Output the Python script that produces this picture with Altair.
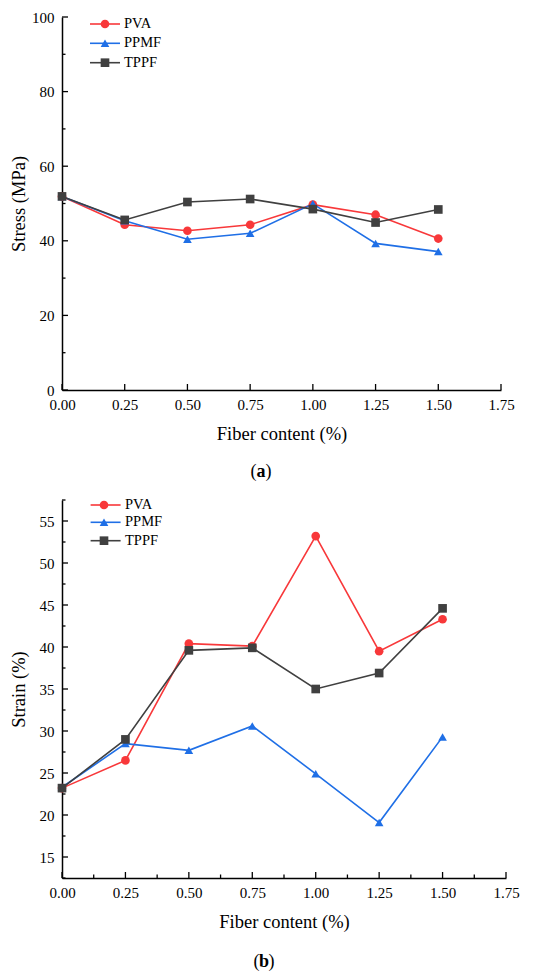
import altair as alt
import pandas as pd

FONT = "'Liberation Serif', 'Times New Roman', 'DejaVu Serif', serif"

fiber = [0.0, 0.25, 0.5, 0.75, 1.0, 1.25, 1.5]
series_names = ["PVA", "PPMF", "TPPF"]
colors = ["#f8383a", "#1f6fe6", "#404040"]
shapes = ["circle", "triangle-up", "square"]

stress_pva = [51.9, 44.3, 42.7, 44.3, 49.7, 47.0, 40.6]
stress_ppmf = [51.9, 45.4, 40.4, 42.0, 49.9, 39.3, 37.1]
stress_tppf = [51.9, 45.6, 50.4, 51.2, 48.5, 44.9, 48.4]

strain_pva = [23.2, 26.5, 40.4, 40.1, 53.2, 39.5, 43.3]
strain_ppmf = [23.3, 28.5, 27.7, 30.6, 24.9, 19.1, 29.3]
strain_tppf = [23.2, 29.0, 39.6, 39.9, 35.0, 36.9, 44.6]

x_major = [0.0, 0.25, 0.5, 0.75, 1.0, 1.25, 1.5, 1.75]
x_minor_b = [0.125, 0.375, 0.625, 0.875, 1.125, 1.375, 1.625]
y_a_major = [0, 20, 40, 60, 80, 100]
y_a_minor = [10, 30, 50, 70, 90]
y_b_major = [15, 20, 25, 30, 35, 40, 45, 50, 55]
y_b_minor = [12.5, 17.5, 22.5, 27.5, 32.5, 37.5, 42.5, 47.5, 52.5, 57.5]


def long_df(vals):
    rows = []
    for name, v in zip(series_names, vals):
        for xx, yy in zip(fiber, v):
            rows.append({"fiber": xx, "series": name, "value": yy})
    return pd.DataFrame(rows)


STY = dict(labelFont=FONT, labelFontSize=15, labelColor="black", titleFont=FONT,
           titleFontSize=18.5, titleFontWeight="normal", titleColor="black",
           domainColor="black", domainWidth=1.5, grid=False, ticks=False, tickSize=0,
           labelFlush=False)


def panel(df, W, H, ydom, ymajor, yminor, xminor, ytitle, tag, legend_rows, leg_x,
          tag_pos, title_x):
    color = alt.Color("series:N", scale=alt.Scale(domain=series_names, range=colors), legend=None)
    shape = alt.Shape("series:N", scale=alt.Scale(domain=series_names, range=shapes), legend=None)
    xs = alt.Scale(domain=[0, 1.75], nice=False, zero=False)
    ys = alt.Scale(domain=ydom, nice=False, zero=False)
    base = alt.Chart(df)
    lines = base.mark_line(strokeWidth=1.6).encode(
        x=alt.X("fiber:Q", scale=xs,
                axis=alt.Axis(orient="bottom", values=x_major, format=".2f",
                              title="Fiber content (%)", labelPadding=7, titlePadding=12, **STY)),
        y=alt.Y("value:Q", scale=ys,
                axis=alt.Axis(orient="left", values=ymajor, title=ytitle, labelPadding=8,
                              titleX=title_x, titleBaseline="middle", **STY)),
        color=color,
        detail="series:N",
    )
    pts = base.mark_point(filled=True, size=75, opacity=1).encode(
        x=alt.X("fiber:Q", scale=xs, axis=None),
        y=alt.Y("value:Q", scale=ys, axis=None),
        color=color,
        shape=shape,
    )
    layers = [lines, pts]
    # inward ticks drawn through the shared scales
    for vals, size in ((x_major, 6), (xminor, 3.5)):
        if vals:
            layers.append(alt.Chart(pd.DataFrame({"t": vals})).mark_rule(
                color="black", strokeWidth=1.3).encode(
                x=alt.X("t:Q", scale=xs, axis=None),
                y=alt.value(H), y2=alt.value(H - size)))
    for vals, size in ((ymajor, 6), (yminor, 3.5)):
        layers.append(alt.Chart(pd.DataFrame({"t": vals})).mark_rule(
            color="black", strokeWidth=1.3).encode(
            y=alt.Y("t:Q", scale=ys, axis=None),
            x=alt.value(0), x2=alt.value(size)))
    for (name, col, shp), ly in zip(zip(series_names, colors, shapes), legend_rows):
        d = alt.Chart(pd.DataFrame({"series": [name]}))
        layers.append(d.mark_rule(color=col, strokeWidth=1.6).encode(
            x=alt.value(leg_x[0]), x2=alt.value(leg_x[1]), y=alt.value(ly)))
        layers.append(d.mark_point(filled=True, size=75, opacity=1, color=col, shape=shp).encode(
            x=alt.value(leg_x[2]), y=alt.value(ly)))
        layers.append(d.mark_text(align="left", baseline="middle", font=FONT, fontSize=14.5,
                                  color="black").encode(
            x=alt.value(leg_x[3]), y=alt.value(ly), text="series:N"))
    tx, ty = tag_pos
    td = alt.Chart(pd.DataFrame({"t": ["("]}))
    layers.append(td.mark_text(align="right", baseline="middle", font=FONT, fontSize=18,
                               color="black", text="(").encode(x=alt.value(tx - 4.5), y=alt.value(ty)))
    layers.append(td.mark_text(align="center", baseline="middle", font=FONT, fontSize=18,
                               fontWeight="bold", color="black", text=tag).encode(
        x=alt.value(tx), y=alt.value(ty)))
    layers.append(td.mark_text(align="left", baseline="middle", font=FONT, fontSize=18,
                               color="black", text=")").encode(x=alt.value(tx + 4.5), y=alt.value(ty)))
    return alt.layer(*layers).resolve_scale(x="shared", y="shared").resolve_axis(
        x="independent", y="independent").properties(width=W, height=H)


dfa = long_df([stress_pva, stress_ppmf, stress_tppf])
dfb = long_df([strain_pva, strain_ppmf, strain_tppf])

pa = panel(dfa, 439, 373, [0, 100], y_a_major, y_a_minor, [],
           "Stress (MPa)", "a", [7, 26.3, 45.7], [28, 58, 43, 62], (199, 455), -44)
pb = panel(dfb, 444, 378, [12.5, 57.5], y_b_major, y_b_minor, x_minor_b,
           "Strain (%)", "b", [5, 22.3, 40.7], [28.6, 58.6, 42, 63], (202, 462), -43.7)

chart = alt.vconcat(pa, pb, spacing=16).properties(
    padding={"left": 1, "top": 2, "right": 5, "bottom": 5}
).configure_view(stroke=None)

chart.save("out.html", embed_options={"renderer": "svg", "actions": False})
